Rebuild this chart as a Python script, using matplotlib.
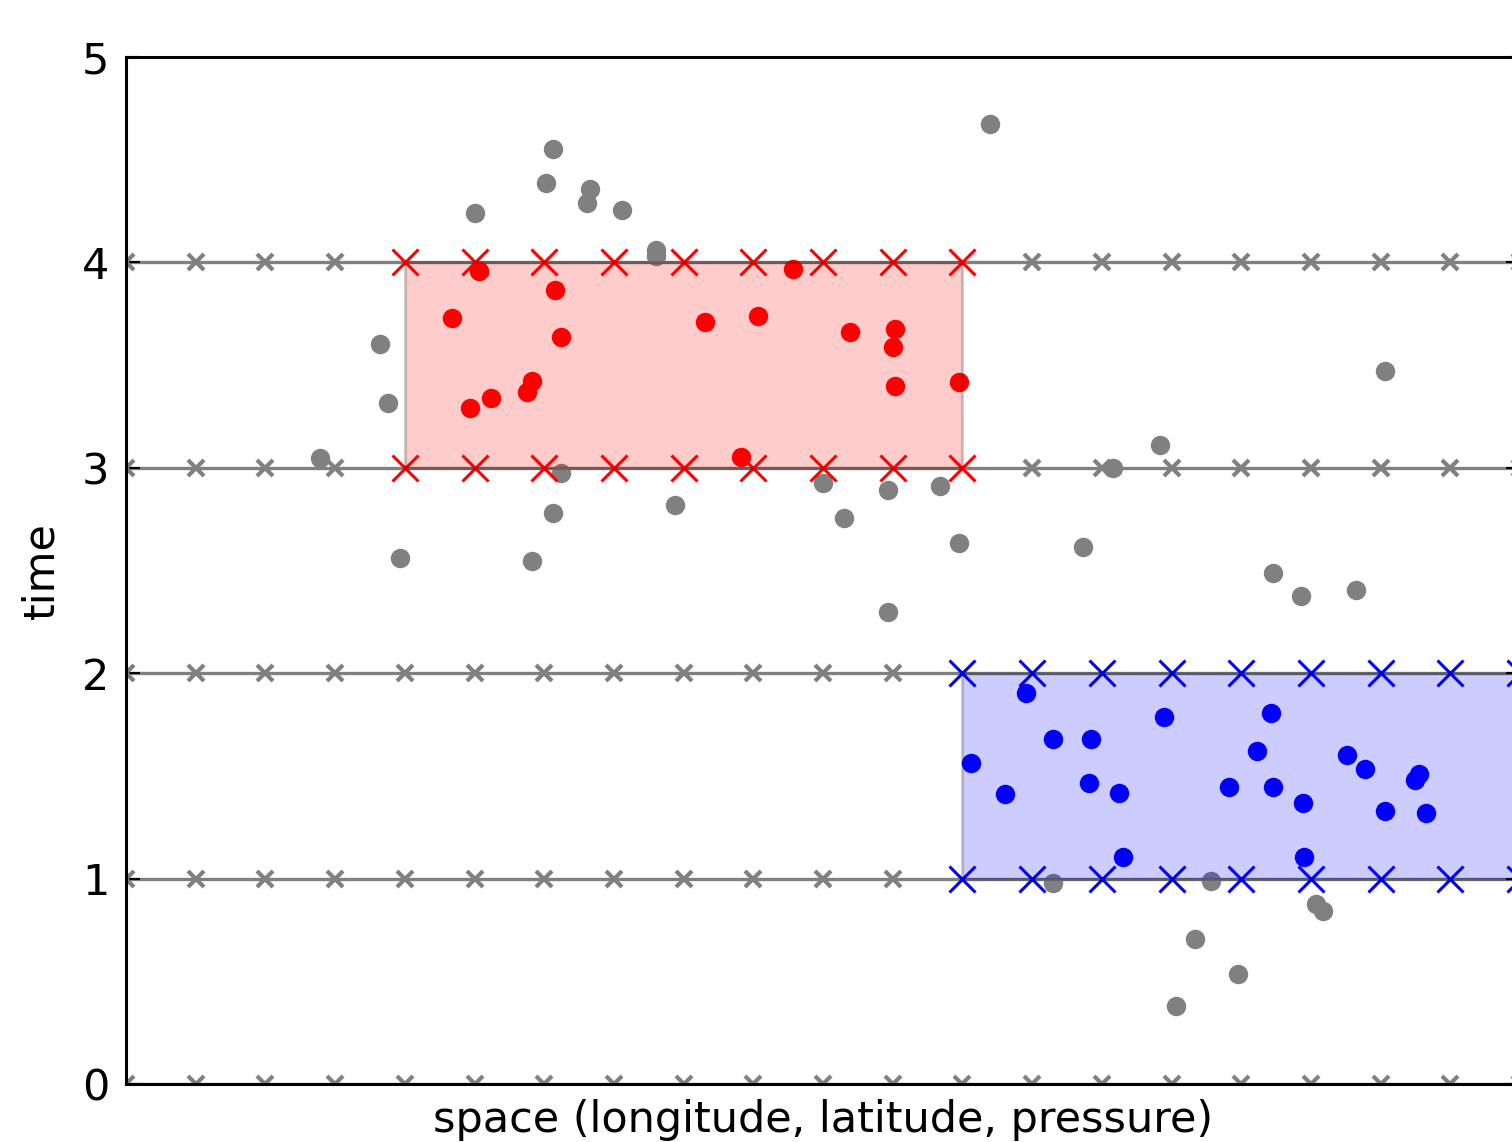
import numpy as np
import matplotlib.pyplot as plt
from matplotlib.patches import Rectangle

# rejilla: niveles de tiempo y puntos en el espacio
time_levels = [0, 1, 2, 3, 4]
space_points = list(range(21))

# cajas (x0, x1, y0, y1)
red_box = [4, 12, 3, 4]
blue_box = [12, 20, 1, 2]

# observaciones fuera de las cajas
gray_x = [2.79, 3.64, 3.76, 3.93, 5.01, 5.83, 6.02, 6.12, 6.13, 6.24, 6.61, 6.66,
          7.12, 7.61, 7.61, 7.88, 10.00, 10.30, 10.93, 10.93, 11.68, 11.95, 12.40,
          13.73, 14.16, 14.83, 16.45, 16.86, 17.65, 18.06, 13.30, 15.56, 15.34,
          15.95, 15.07, 17.07, 17.18]
gray_y = [3.049, 3.604, 3.314, 2.562, 4.242, 2.546, 4.385, 4.55, 2.781, 2.976,
          4.288, 4.356, 4.254, 4.06, 4.03, 2.817, 2.928, 2.754, 2.892, 2.296, 2.911,
          2.632, 4.674, 2.614, 3.000, 3.111, 2.486, 2.374, 2.404, 3.471, 0.980,
          0.988, 0.707, 0.536, 0.381, 0.875, 0.844]

# observaciones dentro de la caja roja
red_x = [5.06, 6.16, 4.68, 6.24, 5.83, 5.76, 5.23, 4.94, 8.30, 9.57, 9.07, 10.39,
         11.04, 11.01, 11.03, 11.95, 8.82]
red_y = [3.96, 3.866, 3.728, 3.638, 3.423, 3.369, 3.341, 3.291, 3.711, 3.966,
         3.741, 3.660, 3.674, 3.586, 3.400, 3.418, 3.054]

# observaciones dentro de la caja azul
blue_x = [12.91, 12.13, 12.61, 13.30, 13.85, 13.81, 14.24, 14.31, 14.89, 15.83,
          16.43, 16.22, 16.46, 16.88, 16.90, 17.52, 17.77, 18.55, 18.49, 18.07, 18.65]
blue_y = [1.902, 1.561, 1.413, 1.678, 1.678, 1.467, 1.417, 1.104, 1.787, 1.447,
          1.805, 1.621, 1.447, 1.368, 1.105, 1.600, 1.535, 1.508, 1.480, 1.331, 1.319]


#Devuelve True si el punto de rejilla cae en el borde de la caja
def en_caja(x, y, box):
    return box[0] <= x <= box[1] and (y == box[2] or y == box[3])


fig = plt.figure(figsize=(15.12, 11.42), dpi=100)
ax = fig.add_axes([126 / 1512, 58 / 1142, 1394 / 1512, 1027 / 1142])

#Lineas de tiempo con sus puntos de rejilla
for lvl in time_levels:
    ax.plot(space_points, [lvl] * len(space_points), '-', color='gray', lw=2.4, zorder=1)
    xs = [x for x in space_points if not en_caja(x, lvl, red_box) and not en_caja(x, lvl, blue_box)]
    ax.plot(xs, [lvl] * len(xs), 'x', color='gray', ms=12, mew=3, zorder=2)

#Puntos de rejilla de las cajas
for box, col in [(red_box, 'red'), (blue_box, 'blue')]:
    for lvl in box[2:]:
        xs = [x for x in space_points if en_caja(x, lvl, box)]
        ax.plot(xs, [lvl] * len(xs), 'x', color=col, ms=19, mew=2.2, zorder=4)

#Observaciones
ax.plot(gray_x, gray_y, 'o', color='gray', ms=14, mec='none', zorder=3)
ax.plot(red_x, red_y, 'o', color='red', ms=14, mec='none', zorder=3)
ax.plot(blue_x, blue_y, 'o', color='blue', ms=14, mec='none', zorder=3)

#Cajas rellenas encima de todo
for box, col in [(red_box, 'red'), (blue_box, 'blue')]:
    r = Rectangle((box[0], box[2]), box[1] - box[0], box[3] - box[2],
                  facecolor=col, edgecolor='black', lw=2.2, alpha=0.2, zorder=5)
    ax.add_patch(r)

ax.set_xlim(0, 20)
ax.set_ylim(0, 5)
ax.set_xticks([])
ax.set_yticks(range(6))
ax.tick_params(axis='y', direction='in', right=True, length=10, width=1.5,
               labelsize=31, pad=12)
for s in ax.spines.values():
    s.set_linewidth(2.2)
    s.set_zorder(6)
ax.set_xlabel('space (longitude, latitude, pressure)', fontsize=31, labelpad=11)
ax.set_ylabel('time', fontsize=31, labelpad=14)

fig.savefig('out.png', dpi=100)
